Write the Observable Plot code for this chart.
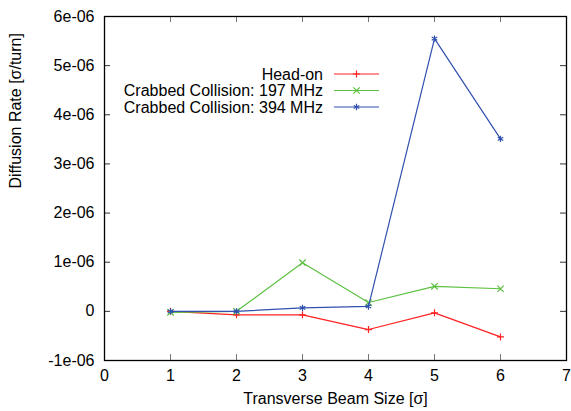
<!DOCTYPE html>
<html><head><meta charset="utf-8">
<script src="https://cdn.jsdelivr.net/npm/d3@7"></script>
<script src="https://cdn.jsdelivr.net/npm/@observablehq/plot@0.6"></script>
<style>
body{margin:0;background:#fff}
#chart svg{font-family:"Liberation Sans",Arial,sans-serif}
</style>
</head><body><div id="chart"></div>
<script>
// Data
const beamSize = [1, 2, 3, 4, 5, 6];
const headOn   = [0, -0.07e-6, -0.07e-6, -0.37e-6, -0.03e-6, -0.52e-6];
const crab197  = [-0.02e-6, 0, 0.99e-6, 0.18e-6, 0.51e-6, 0.46e-6];
const crab394  = [0, 0, 0.07e-6, 0.10e-6, 5.55e-6, 3.51e-6];
const seriesNames = ["Head-on", "Crabbed Collision: 197 MHz", "Crabbed Collision: 394 MHz"];
const seriesColors = ["#ff2222", "#5cc040", "#3050b0"];
const seriesSymbols = ["plus", "times", "asterisk"];
const xTicks = [0, 1, 2, 3, 4, 5, 6, 7];
const xTickLabels = ["0", "1", "2", "3", "4", "5", "6", "7"];
const yTicks = [-1e-6, 0, 1e-6, 2e-6, 3e-6, 4e-6, 5e-6, 6e-6];
const yTickLabels = ["-1e-06", "0", "1e-06", "2e-06", "3e-06", "4e-06", "5e-06", "6e-06"];
const xLabel = "Transverse Beam Size [σ]";
const yLabel = "Diffusion Rate [σ/turn]";

const seriesValues = [headOn, crab197, crab394];
const seriesData = seriesValues.map((vals, i) =>
  beamSize.map((x, j) => ({x, y: vals[j], series: seriesNames[i]})));

const W = 571, H = 411;
const mL = 104, mR = 5, mT = 16, mB = 51;
const frameW = W - mL - mR, frameH = H - mT - mB;
const tickLen = 6;
const symR = {plus: 2.4, times: 3.0, asterisk: 3.0};
const d3Sym = {plus: d3.symbolPlus, times: d3.symbolTimes, asterisk: d3.symbolAsterisk};

function legend(index, scales, values, dims) {
  const g = d3.create("svg:g");
  const right = dims.width - dims.marginRight;
  const textX = right - 243, x1 = right - 232, x2 = right - 187;
  seriesNames.forEach((name, i) => {
    const y = dims.marginTop + 58 + i * 16.5;
    g.append("text").attr("x", textX).attr("y", y).attr("dy", "0.35em")
      .attr("text-anchor", "end").attr("fill", "black").text(name);
    g.append("line").attr("x1", x1).attr("x2", x2).attr("y1", y).attr("y2", y)
      .attr("stroke", seriesColors[i]).attr("stroke-width", 1.2);
    const r = symR[seriesSymbols[i]];
    g.append("path").attr("transform", `translate(${(x1 + x2) / 2},${y})`)
      .attr("d", d3.symbol(d3Sym[seriesSymbols[i]], r * r * Math.PI)())
      .attr("stroke", seriesColors[i]).attr("fill", "none").attr("stroke-width", 1.2);
  });
  return g.node();
}

const marks = [];
// inward ticks on all four sides
marks.push(Plot.tickY(yTicks, {y: d => d, insetRight: frameW - tickLen, stroke: "#333"}));
marks.push(Plot.tickY(yTicks, {y: d => d, insetLeft: frameW - tickLen, stroke: "#333"}));
marks.push(Plot.tickX(xTicks, {x: d => d, insetTop: frameH - tickLen, stroke: "#777"}));
marks.push(Plot.tickX(xTicks, {x: d => d, insetBottom: frameH - tickLen, stroke: "#777"}));
seriesData.forEach((data, i) => {
  marks.push(Plot.line(data, {x: "x", y: "y", stroke: seriesColors[i], strokeWidth: 1.2}));
  marks.push(Plot.dot(data, {x: "x", y: "y", stroke: seriesColors[i], symbol: seriesSymbols[i],
    r: symR[seriesSymbols[i]], strokeWidth: 1.2, fill: "none"}));
});
marks.push(Plot.frame({stroke: "black", strokeWidth: 1.3}));
marks.push(Plot.text([xLabel], {text: d => d, frameAnchor: "bottom", dy: 43, fill: "black"}));
marks.push(Plot.text([yLabel], {text: d => d, frameAnchor: "left", dx: -89, rotate: -90, fill: "black"}));
marks.push(legend);

const chart = Plot.plot({
  width: W, height: H,
  marginLeft: mL, marginRight: mR, marginTop: mT, marginBottom: mB,
  style: {fontSize: "16px", fontFamily: "Liberation Sans, Arial, sans-serif", background: "white", color: "black"},
  x: {domain: [0, 7], ticks: xTicks, tickSize: 0, tickPadding: 9, label: null,
      tickFormat: d => xTickLabels[xTicks.indexOf(d)]},
  y: {domain: [-1e-6, 6e-6], ticks: yTicks, tickSize: 0, tickPadding: 10, label: null,
      tickFormat: d => yTickLabels[yTicks.findIndex(t => Math.abs(t - d) < 1e-12)]},
  marks
});
document.getElementById("chart").appendChild(chart);
</script>
</body></html>
